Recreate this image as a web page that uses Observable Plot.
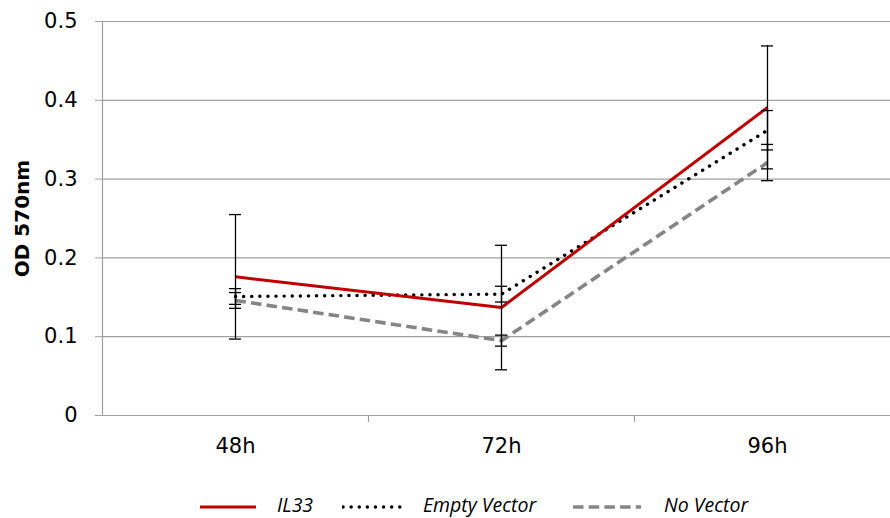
<!DOCTYPE html>
<html>
<head>
<meta charset="utf-8">
<script src="https://cdn.jsdelivr.net/npm/d3@7"></script>
<script src="https://cdn.jsdelivr.net/npm/@observablehq/plot@0.6"></script>
<style>
  body { margin: 0; background: #fff; font-family: "DejaVu Sans", sans-serif; }
  #chart { width: 890px; }
  .legend { position: relative; width: 890px; height: 48px; font-family: "Open Sans", sans-serif; font-style: italic; font-size: 19.5px; color: #000; }
  .legend .sw { position: absolute; top: 33px; }
  .legend .lb { position: absolute; top: 23px; line-height: 24px; white-space: nowrap; }
</style>
</head>
<body>
<div id="chart"></div>
<script>
// Time points and series (mean OD at 570 nm with error)
const times = ["48h", "72h", "96h"];
const seriesNames = ["IL33", "Empty Vector", "No Vector"];
const il33 = [0.176, 0.137, 0.391];
const il33Err = [0.079, 0.079, 0.078];
const emptyVector = [0.151, 0.154, 0.362];
const emptyVectorErr = [0.010, 0.010, 0.025];
const noVector = [0.146, 0.095, 0.321];
const noVectorErr = [0.010, 0.007, 0.023];
const yTicks = [0, 0.1, 0.2, 0.3, 0.4, 0.5];

const styles = {
  "IL33": { stroke: "#C00000", strokeWidth: 3, strokeDasharray: null, strokeLinecap: "butt" },
  "Empty Vector": { stroke: "#000000", strokeWidth: 3.4, strokeDasharray: "0.1 8", strokeLinecap: "round" },
  "No Vector": { stroke: "#858585", strokeWidth: 3.6, strokeDasharray: "10.5 5.2", strokeLinecap: "butt" }
};

const values = [il33, emptyVector, noVector];
const errors = [il33Err, emptyVectorErr, noVectorErr];
const rows = seriesNames.flatMap((s, k) =>
  times.map((t, i) => ({ series: s, time: t, value: values[k][i], err: errors[k][i] }))
);

const chartW = 890, chartH = 470, mLeft = 102, mTop = 21, mBottom = 55;
const half = (900 - mLeft) / times.length / 2;
const axisGray = "#A0A0A0";

const chart = Plot.plot({
  width: chartW,
  height: chartH,
  marginLeft: mLeft,
  marginRight: 0,
  marginTop: mTop,
  marginBottom: mBottom,
  style: { fontFamily: "'DejaVu Sans', sans-serif", color: "#000", background: "#fff" },
  x: { type: "point", domain: times, range: [mLeft, 900], padding: 0.5, label: null },
  y: { domain: [0, 0.5], label: null },
  marks: [
    Plot.gridY(yTicks, { stroke: axisGray, strokeOpacity: 1, strokeWidth: 1.2 }),
    Plot.ruleY([yTicks[0]], { stroke: axisGray, strokeWidth: 1.2 }),
    Plot.ruleX([times[0]], { y1: yTicks[0], y2: yTicks[yTicks.length - 1], dx: -half, stroke: axisGray, strokeWidth: 1.2 }),
    // category boundary ticks below the axis
    Plot.ruleX(times.slice(1), { y1: yTicks[0], y2: yTicks[0], insetBottom: -7, dx: -half, stroke: axisGray, strokeWidth: 1.2 }),
    Plot.axisY(yTicks, {
      tickSize: 7, tickPadding: 18, stroke: axisGray, fontSize: 21,
      tickFormat: d => String(d), label: null
    }),
    Plot.axisX({ tickSize: 0, tickPadding: 23, fontSize: 21, label: null }),
    Plot.text(["OD 570nm"], {
      text: d => d, frameAnchor: "left", textAnchor: "middle", dx: -80, rotate: -90,
      fontSize: 20, fontWeight: "bold"
    }),
    ...seriesNames.slice().reverse().map(s =>
      Plot.line(rows.filter(r => r.series === s), { x: "time", y: "value", ...styles[s] })
    ),
    // error bars
    Plot.ruleX(rows, { x: "time", y1: d => d.value - d.err, y2: d => d.value + d.err, stroke: "#000", strokeWidth: 1.3 }),
    Plot.ruleY(rows, { x1: "time", x2: "time", y: d => d.value + d.err, insetLeft: -6, insetRight: -6, stroke: "#000", strokeWidth: 1.3 }),
    Plot.ruleY(rows, { x1: "time", x2: "time", y: d => d.value - d.err, insetLeft: -6, insetRight: -6, stroke: "#000", strokeWidth: 1.3 })
  ]
});

const root = document.getElementById("chart");
root.appendChild(chart);

// Legend below the plot
const legend = document.createElement("div");
legend.className = "legend";
const swatchLeft = [199, 342, 572];
const swatchLen = [57, 62, 69];
const labelLeft = [277, 423, 664];
seriesNames.forEach((s, k) => {
  const st = styles[s];
  const sw = document.createElementNS("http://www.w3.org/2000/svg", "svg");
  sw.setAttribute("class", "sw");
  sw.setAttribute("width", swatchLen[k] + 2);
  sw.setAttribute("height", 8);
  sw.style.left = swatchLeft[k] + "px";
  const ln = document.createElementNS("http://www.w3.org/2000/svg", "line");
  ln.setAttribute("x1", 1); ln.setAttribute("x2", swatchLen[k]);
  ln.setAttribute("y1", 4); ln.setAttribute("y2", 4);
  ln.setAttribute("stroke", st.stroke);
  ln.setAttribute("stroke-width", st.strokeWidth);
  ln.setAttribute("stroke-linecap", st.strokeLinecap);
  if (st.strokeDasharray) ln.setAttribute("stroke-dasharray", st.strokeDasharray);
  sw.appendChild(ln);
  legend.appendChild(sw);
  const lb = document.createElement("div");
  lb.className = "lb";
  lb.style.left = labelLeft[k] + "px";
  lb.textContent = s;
  legend.appendChild(lb);
});
root.appendChild(legend);
</script>
</body>
</html>
